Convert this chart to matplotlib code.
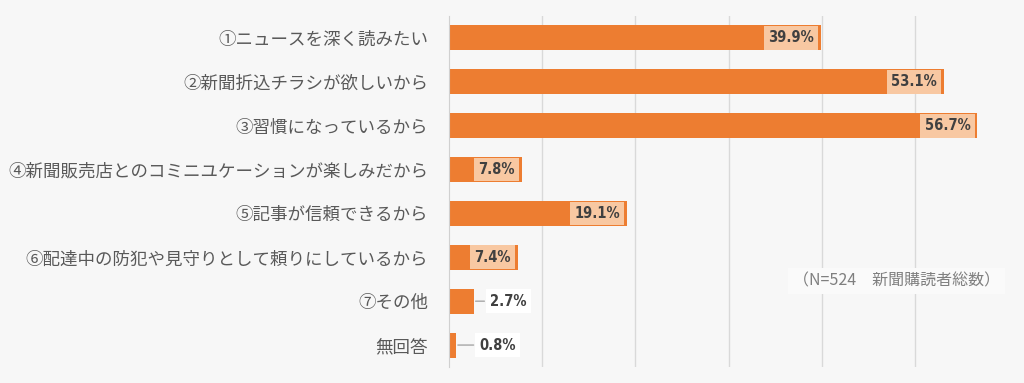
import matplotlib.pyplot as plt
import numpy as np

plt.rcParams['font.family'] = ['Noto Sans CJK JP', 'DejaVu Sans']

labels = ["①ニュースを深く読みたい",
          "②新聞折込チラシが欲しいから",
          "③習慣になっているから",
          "④新聞販売店とのコミニユケーションが楽しみだから",
          "⑤記事が信頼できるから",
          "⑥配達中の防犯や見守りとして頼りにしているから",
          "⑦その他",
          "無回答"]
values = [39.9, 53.1, 56.7, 7.8, 19.1, 7.4, 2.7, 0.8]
value_texts = ["39.9%", "53.1%", "56.7%", "7.8%", "19.1%", "7.4%", "2.7%", "0.8%"]
note = "（N=524　新聞購読者総数）"

bg = '#f7f7f7'
orange = '#ed7d31'

fig = plt.figure(figsize=(10.24, 3.83), dpi=100)
fig.patch.set_facecolor(bg)
ax = fig.add_axes([0.4385, 0.0418, 0.546, 0.9164])
ax.set_facecolor(bg)

y = np.arange(len(values))
ax.barh(y, values, height=0.57, color=orange, zorder=2)

ax.set_xlim(0, 60)
ax.set_ylim(len(values) - 0.5, -0.5)
ax.set_xticks([10, 20, 30, 40, 50])
ax.grid(axis='x', color='#d9d9d9', linewidth=1, zorder=0)
ax.tick_params(axis='x', length=0, labelbottom=False)
ax.tick_params(axis='y', length=0, pad=15)
ax.set_yticks(y)
ax.set_yticklabels(labels, fontsize=12.6, color='#595959')
for s in ['top', 'right', 'bottom']:
    ax.spines[s].set_visible(False)
ax.spines['left'].set_color('#d0d0d0')

for i, (v, t) in enumerate(zip(values, value_texts)):
    if v > 5:
        ax.annotate(t, (v, i), xytext=(-5, 0), textcoords='offset points',
                    ha='right', va='center', fontsize=10.5, fontweight='bold',
                    fontstretch='condensed', family='DejaVu Sans',
                    color='#404040', zorder=4,
                    bbox=dict(boxstyle='square,pad=0.3', fc='#f8c8a2', ec='none'))
    else:
        ax.annotate(t, (v, i), xytext=(18.6 - 2.63 * v, 0), textcoords='offset points',
                    ha='left', va='center', fontsize=10.5, fontweight='bold',
                    fontstretch='condensed', family='DejaVu Sans',
                    color='#404040', zorder=4,
                    bbox=dict(boxstyle='square,pad=0.3', fc='#ffffff', ec='none'),
                    arrowprops=dict(arrowstyle='-', color='#a6a6a6', lw=1,
                                    shrinkA=1, shrinkB=1))

ax.text(0.985, 0.245, note, transform=ax.transAxes, ha='right', va='center',
        fontsize=11.5, color='#7f7f7f', zorder=4,
        bbox=dict(boxstyle='square,pad=0.3', fc='#fafafa', ec='none'))

fig.savefig("out.png", dpi=100, facecolor=bg)
